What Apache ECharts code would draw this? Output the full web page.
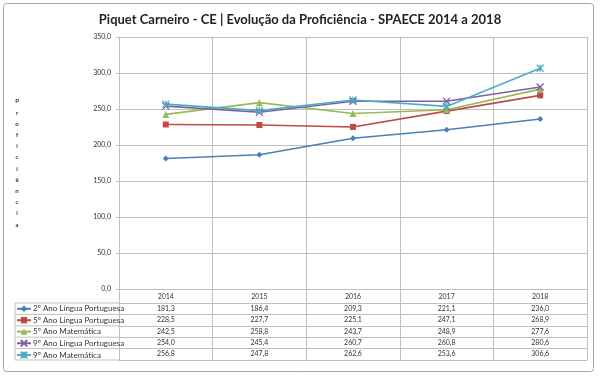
<!DOCTYPE html>
<html>
<head>
<meta charset="utf-8">
<script src="https://cdn.jsdelivr.net/npm/echarts@6/dist/echarts.min.js"></script>
<style>
  html, body { margin: 0; padding: 0; background: #fff; }
  #chart { width: 600px; height: 377px; }
</style>
</head>
<body>
<div id="chart"></div>
<script>
var anos = ['2014', '2015', '2016', '2017', '2018'];
var nomes = ['2º Ano Língua Portuguesa', '5º Ano Língua Portuguesa', '5º Ano Matemática', '9º Ano Língua Portuguesa', '9º Ano Matemática'];
var ano2LP = [181.3, 186.4, 209.3, 221.1, 236.0];
var ano5LP = [228.5, 227.7, 225.1, 247.1, 268.9];
var ano5MT = [242.5, 258.8, 243.7, 248.9, 277.6];
var ano9LP = [254.0, 245.4, 260.7, 260.8, 280.6];
var ano9MT = [256.8, 247.8, 262.6, 253.6, 306.6];
var valores = [ano2LP, ano5LP, ano5MT, ano9LP, ano9MT];

var cores = ['#4A7EBB', '#BE4B48', '#98B954', '#7D60A0', '#4BACC6'];
var simbolos = ['diamond', 'rect', 'triangle',
  'path://M0,0L10,10M10,0L0,10',
  'path://M0,0L10,10M10,0L0,10M5,0L5,10'];
var tamanhos = [6, 6, 7, 7, 7];

var fonte = 'Lato';
var grade = '#BFBFBF';
var virgula = function (v) { return Number(v).toFixed(1).replace('.', ','); };

var topoTab = 289, cab = 14, linha = 11.4;

var xAxes = [{
  type: 'category', data: anos, position: 'bottom', gridIndex: 0,
  axisLine: { show: true, lineStyle: { color: grade } },
  axisTick: { show: true, length: cab, lineStyle: { color: grade } },
  splitLine: { show: true, lineStyle: { color: grade } },
  axisLabel: { fontSize: 7, fontFamily: fonte, color: '#333', margin: 4, interval: 0 }
}];
valores.forEach(function (serie, i) {
  xAxes.push({
    type: 'category', data: anos, position: 'bottom', offset: cab + linha * i,
    axisLine: { show: true, lineStyle: { color: grade } },
    axisTick: { show: true, length: linha, lineStyle: { color: grade } },
    splitLine: { show: false },
    axisLabel: {
      fontSize: 7, fontFamily: fonte, color: '#333', margin: 2, interval: 0,
      formatter: function (v, idx) { return virgula(serie[idx]); }
    }
  });
});
xAxes.push({
  type: 'category', data: anos, position: 'bottom', offset: cab + linha * 5,
  axisLine: { show: true, lineStyle: { color: grade } },
  axisTick: { show: false }, axisLabel: { show: false }, splitLine: { show: false }
});

var series = valores.map(function (serie, i) {
  return {
    name: nomes[i], type: 'line', data: serie, xAxisIndex: 0,
    symbol: simbolos[i], symbolSize: tamanhos[i],
    lineStyle: { color: cores[i], width: 1.6 },
    itemStyle: { color: cores[i], borderColor: cores[i], borderWidth: i > 2 ? 1.2 : 0 },
    animation: false
  };
});

// linhas da coluna de legenda da tabela
var graficos = [{
  type: 'rect', shape: { x: 3.5, y: 3.5, width: 590, height: 368, r: 3 },
  style: { fill: null, stroke: '#A6A6A6', lineWidth: 1 }
}, {
  type: 'line', shape: { x1: 15, y1: topoTab + cab, x2: 15, y2: topoTab + cab + linha * 5 },
  style: { stroke: grade, lineWidth: 1 }
}];
for (var k = 0; k <= 5; k++) {
  var y = topoTab + cab + linha * k;
  graficos.push({ type: 'line', shape: { x1: 15, y1: y, x2: 119, y2: y }, style: { stroke: grade, lineWidth: 1 } });
}

var myChart = echarts.init(document.getElementById('chart'));
option = {
  backgroundColor: '#fff',
  animation: false,
  title: {
    text: 'Piquet Carneiro - CE | Evolução da Proficiência - SPAECE 2014 a 2018',
    left: 'center', top: 8,
    textStyle: { fontSize: 13, fontWeight: 'bold', fontFamily: fonte, color: '#222' }
  },
  legend: {
    orient: 'vertical', left: 16, top: topoTab + cab + 1.8, padding: 0,
    itemWidth: 14, itemHeight: 8, itemGap: 3.4,
    textStyle: { fontSize: 8, fontFamily: fonte, color: '#333', lineHeight: 8, padding: [0, 0, 0, -3] },
    selectedMode: false,
    data: nomes
  },
  grid: { left: 119, right: 13, top: 37, bottom: 377 - topoTab },
  xAxis: xAxes,
  yAxis: {
    type: 'value', min: 0, max: 350, interval: 50,
    name: 'P\nr\no\nf\ni\nc\ni\nê\nn\nc\ni\na',
    nameLocation: 'middle', nameRotate: 0, nameGap: 102,
    nameTextStyle: { fontSize: 6, fontWeight: 'bold', fontFamily: fonte, color: '#333', lineHeight: 11.2, align: 'center', verticalAlign: 'middle' },
    axisLine: { show: true, lineStyle: { color: grade } },
    axisTick: { show: true, length: 3, lineStyle: { color: grade } },
    splitLine: { lineStyle: { color: grade } },
    axisLabel: { fontSize: 7, fontFamily: fonte, color: '#333', margin: 8, formatter: virgula }
  },
  graphic: graficos,
  series: series
};
myChart.setOption(option);
</script>
</body>
</html>
